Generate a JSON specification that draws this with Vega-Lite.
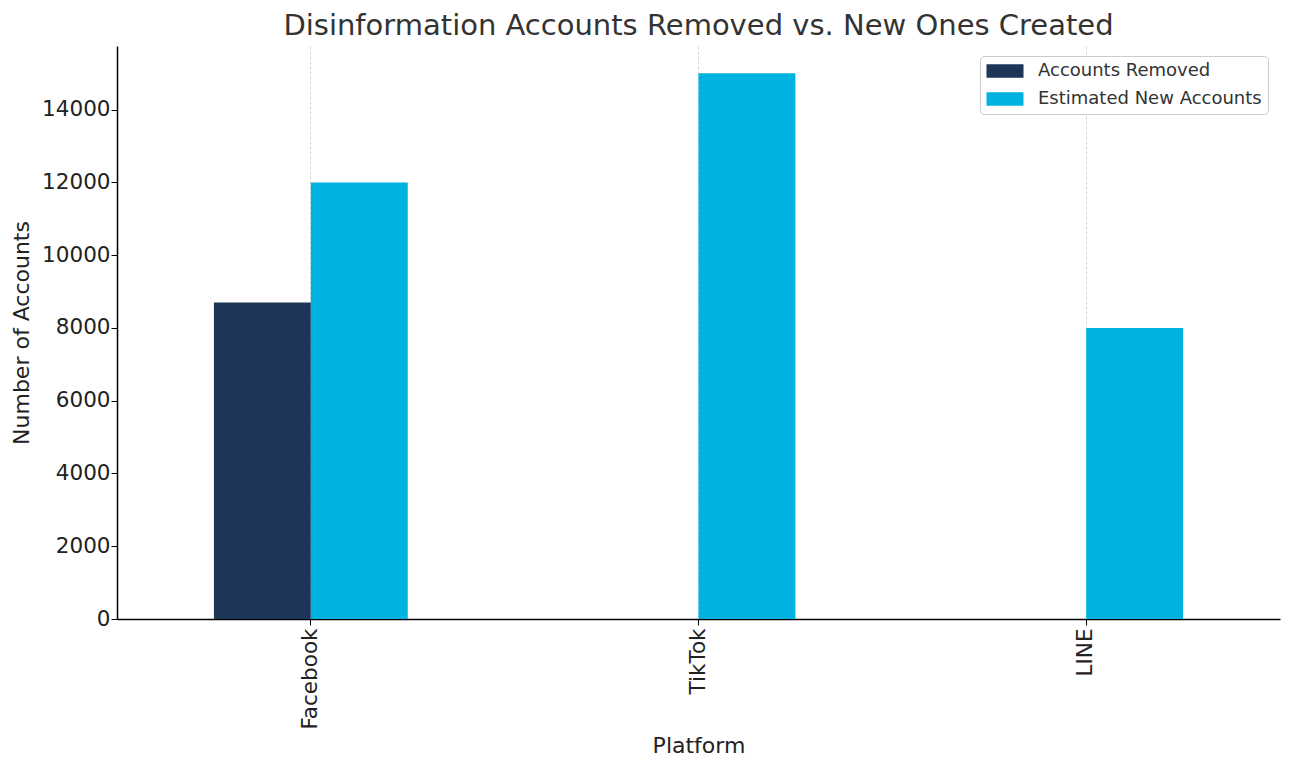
{
  "$schema": "https://vega.github.io/schema/vega-lite/v6.json",
  "width": 1163,
  "height": 573,
  "autosize": {"type": "none"},
  "padding": {"left": 117, "top": 46, "right": 12, "bottom": 151},
  "background": "white",
  "title": {
    "text": "Disinformation Accounts Removed vs. New Ones Created",
    "font": "DejaVu Sans",
    "fontSize": 29,
    "fontWeight": "normal",
    "color": "#333333",
    "anchor": "middle",
    "offset": 5
  },
  "data": {
    "values": [
      {"Platform": "Facebook", "Series": "Accounts Removed", "Accounts": 8700},
      {"Platform": "Facebook", "Series": "Estimated New Accounts", "Accounts": 12000},
      {"Platform": "TikTok", "Series": "Accounts Removed", "Accounts": 0},
      {"Platform": "TikTok", "Series": "Estimated New Accounts", "Accounts": 15000},
      {"Platform": "LINE", "Series": "Accounts Removed", "Accounts": 0},
      {"Platform": "LINE", "Series": "Estimated New Accounts", "Accounts": 8000}
    ]
  },
  "mark": {"type": "bar"},
  "encoding": {
    "x": {
      "field": "Platform",
      "type": "nominal",
      "sort": ["Facebook", "TikTok", "LINE"],
      "scale": {"paddingInner": 0, "paddingOuter": 0},
      "axis": {
        "title": "Platform",
        "labelAngle": 270,
        "labelAlign": "right",
        "labelBaseline": "middle",
        "labelPadding": 3,
        "grid": true,
        "gridColor": "#cccccc",
        "gridDash": [3, 2],
        "gridWidth": 0.8,
        "titlePadding": 6
      }
    },
    "xOffset": {
      "field": "Series",
      "type": "nominal",
      "sort": ["Accounts Removed", "Estimated New Accounts"],
      "scale": {"paddingInner": 0, "paddingOuter": 1}
    },
    "y": {
      "field": "Accounts",
      "type": "quantitative",
      "scale": {"domain": [0, 15750], "nice": false, "zero": true},
      "axis": {
        "title": "Number of Accounts",
        "values": [0, 2000, 4000, 6000, 8000, 10000, 12000, 14000],
        "format": "d",
        "grid": false,
        "labelPadding": 1,
        "titlePadding": 8
      }
    },
    "color": {
      "field": "Series",
      "type": "nominal",
      "sort": ["Accounts Removed", "Estimated New Accounts"],
      "scale": {"domain": ["Accounts Removed", "Estimated New Accounts"], "range": ["#1d3557", "#00b2e0"]},
      "legend": {
        "title": null,
        "orient": "none",
        "legendX": 863,
        "legendY": 10,
        "symbolType": "M-2.5,-0.9H2.5V0.9H-2.5Z",
        "symbolSize": 219,
        "symbolStrokeWidth": 0,
        "symbolOffset": 10,
        "labelOffset": 24,
        "labelFont": "DejaVu Sans",
        "labelFontSize": 18,
        "labelColor": "#333333",
        "labelLimit": 400,
        "rowPadding": 10,
        "padding": 6,
        "strokeColor": "#cccccc",
        "cornerRadius": 4,
        "fillColor": "white"
      }
    }
  },
  "config": {
    "view": {"stroke": null},
    "font": "DejaVu Sans",
    "axis": {
      "labelFont": "DejaVu Sans",
      "labelFontSize": 21.5,
      "labelColor": "#222222",
      "titleFont": "DejaVu Sans",
      "titleFontSize": 22,
      "titleFontWeight": "normal",
      "titleColor": "#222222",
      "domainColor": "#000000",
      "domainWidth": 1.5,
      "tickColor": "#000000",
      "tickSize": 6,
      "tickWidth": 1
    }
  }
}
